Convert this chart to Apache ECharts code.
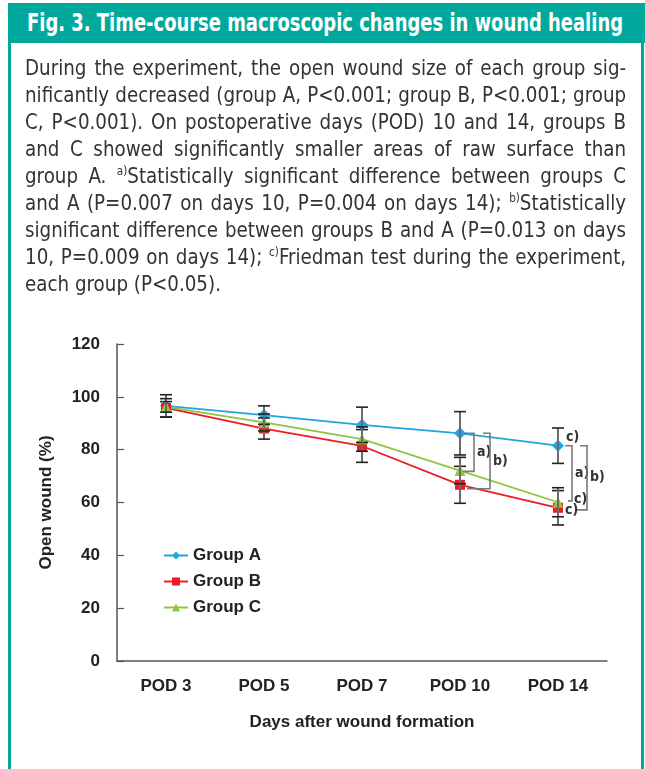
<!DOCTYPE html>
<html>
<head>
<meta charset="utf-8">
<script src="https://cdn.jsdelivr.net/npm/echarts@6/dist/echarts.min.js"></script>
<style>
  html, body { margin:0; padding:0; width:645px; height:769px; overflow:hidden; background:#fff; }
  #chart { position:absolute; left:0; top:0; width:645px; height:769px; }
  .hdr { position:absolute; left:8px; top:3px; width:637px; height:40px; background:#00a99b; overflow:hidden; }
  .hdr span { position:absolute; left:19px; top:0; color:#fff; white-space:nowrap;
         font-family:"DejaVu Sans Condensed","DejaVu Sans",sans-serif; font-weight:bold; font-size:24px;
         line-height:40px; transform-origin:0 50%; }
  .box { position:absolute; left:8px; top:43px; width:636px; height:800px; box-sizing:border-box;
         border-left:3px solid #00a99b; border-right:3px solid #00a99b; pointer-events:none; }
  .cap { position:absolute; left:25px; top:55px; width:621px; font-family:"DejaVu Sans Condensed","DejaVu Sans",sans-serif;
         font-size:21px; line-height:27px; color:#333; transform:scaleX(0.968); transform-origin:0 0; }
  .cap div { white-space:nowrap; text-align:justify; text-align-last:justify; }
  .cap div.last { text-align-last:left; }
  .cap sup { font-size:12px; vertical-align:8px; line-height:0; }
</style>
</head>
<body>
<div id="chart"></div>
<div class="hdr"><span id="ttl">Fig. 3. Time-course macroscopic changes in wound healing</span></div>
<div class="box"></div>
<div class="cap" id="cap">
<div>During the experiment, the open wound size of each group sig-</div>
<div>nificantly decreased (group A, P&lt;0.001; group B, P&lt;0.001; group</div>
<div>C, P&lt;0.001). On postoperative days (POD) 10 and 14, groups B</div>
<div>and C showed significantly smaller areas of raw surface than</div>
<div>group A. <sup>a)</sup>Statistically significant difference between groups C</div>
<div>and A (P=0.007 on days 10, P=0.004 on days 14); <sup>b)</sup>Statistically</div>
<div>significant difference between groups B and A (P=0.013 on days</div>
<div>10, P=0.009 on days 14); <sup>c)</sup>Friedman test during the experiment,</div>
<div class="last">each group (P&lt;0.05).</div>
</div>
<script>
// ---- data ----
var categories = ['POD 3', 'POD 5', 'POD 7', 'POD 10', 'POD 14'];
var yTicks = [0, 20, 40, 60, 80, 100, 120];
var groupA = [96.6, 93.1, 89.4, 86.2, 81.5];
var groupB = [95.8, 88.0, 81.4, 66.7, 58.0];
var groupC = [96.2, 90.3, 84.0, 72.1, 60.1];
var errA = [4.2, 3.5, 6.7, 8.2, 6.7];
var errB = [3.5, 4.0, 6.2, 7.0, 6.5];
var errC = [2.0, 3.2, 4.6, 5.0, 5.5];
// significance brackets: [category, top value, bottom value, label]
var brackets = [
  ['POD 10', 86.2, 71.8, 'a)'],
  ['POD 10', 86.2, 65.2, 'b)'],
  ['POD 14', 81.5, 60.6, 'a)'],
  ['POD 14', 81.5, 57.2, 'b)']
];
// Friedman markers: [category, value, label]
var friedman = [
  ['POD 14', 84.6, 'c)'],
  ['POD 14', 61.0, 'c)'],
  ['POD 14', 57.0, 'c)']
];

// ---- title fitting ----
(function () {
  var t = document.getElementById('ttl');
  var w = t.getBoundingClientRect().width;
  t.style.transform = 'scaleX(' + (596 / w) + ')';
})();

// ---- styles (pixel offsets) ----
var bracketOffset = [14, 30, 14, 29];
var bracketArmTop = [11, 7, 7, 7];
var bracketArmBot = [11, 23, 4, 12];
var friedmanOffset = [8, 16, 7];

var FONT = '"Liberation Sans", Arial, sans-serif';
var COLORS = ['#1ea5e3', '#ec1c24', '#8dc63f'];

var chart = echarts.init(document.getElementById('chart'), null, {renderer: 'canvas'});

function errSeries(vals, errs, name) {
  return {
    type: 'custom', name: name + ' err', z: 5, silent: true,
    data: vals.map(function (v, i) { return [i, v, errs[i]]; }),
    renderItem: function (params, api) {
      var i = api.value(0), v = api.value(1), e = api.value(2);
      var top = api.coord([i, v + e]);
      var bot = api.coord([i, v - e]);
      var hw = 6;
      return {
        type: 'group',
        children: [
          {type: 'line', shape: {x1: top[0], y1: top[1], x2: bot[0], y2: bot[1]}, style: {stroke: '#6b6b6b', lineWidth: 2}},
          {type: 'line', shape: {x1: top[0] - hw, y1: top[1], x2: top[0] + hw, y2: top[1]}, style: {stroke: '#222', lineWidth: 1.6}},
          {type: 'line', shape: {x1: bot[0] - hw, y1: bot[1], x2: bot[0] + hw, y2: bot[1]}, style: {stroke: '#222', lineWidth: 1.6}}
        ]
      };
    }
  };
}

var option = {
  animation: false,
  grid: {left: 117, right: 38, top: 344, bottom: 108, containLabel: false},
  legend: {
    orient: 'vertical', left: 163, top: 547, itemGap: 9, itemWidth: 24, itemHeight: 10, padding: 0,
    data: ['Group A', 'Group B', 'Group C'],
    textStyle: {fontFamily: FONT, fontWeight: 'bold', fontSize: 17, color: '#222'}
  },
  xAxis: {
    type: 'category', data: categories, boundaryGap: true,
    axisLine: {lineStyle: {color: '#555', width: 1.5}},
    axisTick: {show: false},
    axisLabel: {fontFamily: FONT, fontWeight: 'bold', fontSize: 17, color: '#222', margin: 17},
    name: 'Days after wound formation', nameLocation: 'middle', nameGap: 53,
    nameTextStyle: {fontFamily: FONT, fontWeight: 'bold', fontSize: 17, color: '#222'}
  },
  yAxis: {
    type: 'value', min: yTicks[0], max: yTicks[yTicks.length - 1], interval: yTicks[1] - yTicks[0],
    axisLine: {show: true, lineStyle: {color: '#555', width: 1.5}},
    axisTick: {show: true, inside: true, length: 7, lineStyle: {color: '#555', width: 1.2}},
    splitLine: {show: false},
    axisLabel: {fontFamily: FONT, fontWeight: 'bold', fontSize: 17, color: '#222', margin: 17},
    name: 'Open wound (%)', nameLocation: 'middle', nameGap: 62, nameRotate: 90,
    nameTextStyle: {fontFamily: FONT, fontWeight: 'bold', fontSize: 17, color: '#222'}
  },
  series: [
    {name: 'Group A', type: 'line', data: groupA, symbol: 'diamond', symbolSize: 12, z: 3,
     itemStyle: {color: COLORS[0]}, lineStyle: {color: COLORS[0], width: 1.8}},
    {name: 'Group B', type: 'line', data: groupB, symbol: 'rect', symbolSize: 10, z: 3,
     itemStyle: {color: COLORS[1]}, lineStyle: {color: COLORS[1], width: 1.8}},
    {name: 'Group C', type: 'line', data: groupC, symbol: 'triangle', symbolSize: 11, z: 3,
     itemStyle: {color: COLORS[2]}, lineStyle: {color: COLORS[2], width: 1.8}},
    errSeries(groupA, errA, 'Group A'),
    errSeries(groupB, errB, 'Group B'),
    errSeries(groupC, errC, 'Group C'),
    {
      type: 'custom', name: 'brackets', z: 6, silent: true,
      data: brackets.map(function (b) { return [categories.indexOf(b[0]), b[1], b[2], b[3]]; }),
      renderItem: function (params, api) {
        var k = params.dataIndex;
        var i = api.value(0);
        var top = api.coord([i, api.value(1)]);
        var bot = api.coord([i, api.value(2)]);
        var x = top[0] + bracketOffset[k];
        var st = {stroke: '#7a7a7a', lineWidth: 1.6, fill: null};
        return {
          type: 'group',
          children: [
            {type: 'polyline', shape: {points: [[x - bracketArmTop[k], top[1]], [x, top[1]], [x, bot[1]], [x - bracketArmBot[k], bot[1]]]}, style: st},
            {type: 'text', style: {x: x + 3, y: (top[1] + bot[1]) / 2, text: brackets[k][3], fill: '#333',
              font: 'bold 14px "DejaVu Sans Condensed", sans-serif', verticalAlign: 'middle'}}
          ]
        };
      }
    },
    {
      type: 'custom', name: 'friedman', z: 6, silent: true,
      data: friedman.map(function (f) { return [categories.indexOf(f[0]), f[1], f[2]]; }),
      renderItem: function (params, api) {
        var k = params.dataIndex;
        var p = api.coord([api.value(0), api.value(1)]);
        return {type: 'text', style: {x: p[0] + friedmanOffset[k], y: p[1], text: friedman[k][2], fill: '#333',
          font: 'bold 14px "DejaVu Sans Condensed", sans-serif', verticalAlign: 'middle'}};
      }
    }
  ]
};
chart.setOption(option);
</script>
</body>
</html>
